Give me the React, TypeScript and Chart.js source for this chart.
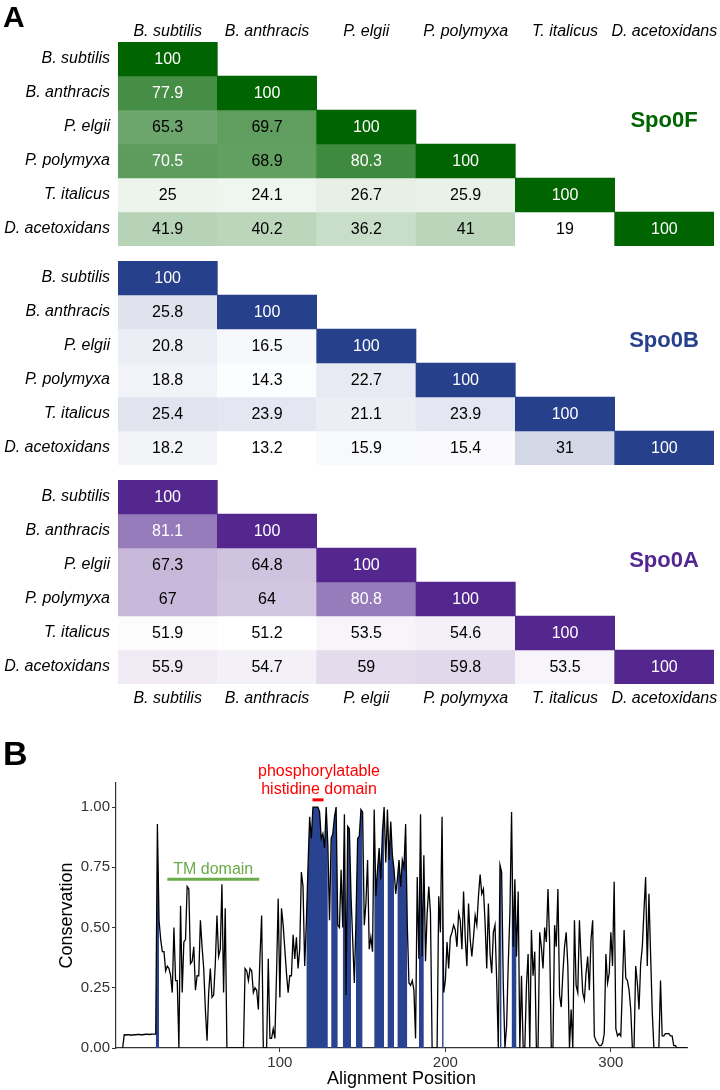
import React, { useEffect, useRef } from 'react';
import { Chart, registerables } from 'chart.js';

Chart.register(...registerables);

const FONT = "'Liberation Sans', Arial, Helvetica, sans-serif";

// ---------- Panel A data ----------
const species = ['B. subtilis', 'B. anthracis', 'P. elgii', 'P. polymyxa', 'T. italicus', 'D. acetoxidans'];

const spo0F: number[][] = [
  [100],
  [77.9, 100],
  [65.3, 69.7, 100],
  [70.5, 68.9, 80.3, 100],
  [25, 24.1, 26.7, 25.9, 100],
  [41.9, 40.2, 36.2, 41, 19, 100],
];
const spo0B: number[][] = [
  [100],
  [25.8, 100],
  [20.8, 16.5, 100],
  [18.8, 14.3, 22.7, 100],
  [25.4, 23.9, 21.1, 23.9, 100],
  [18.2, 13.2, 15.9, 15.4, 31, 100],
];
const spo0A: number[][] = [
  [100],
  [81.1, 100],
  [67.3, 64.8, 100],
  [67, 64, 80.8, 100],
  [51.9, 51.2, 53.5, 54.6, 100],
  [55.9, 54.7, 59, 59.8, 53.5, 100],
];
const greenRGB = [0, 100, 0];
const blueRGB = [39, 64, 139];
const purpleRGB = [84, 39, 143];

// ---------- Panel B data ----------
const firstPosition = 5;
const conservation: number[] = [
  0, 0.055, 0.054, 0.055, 0.055, 0.053, 0.054, 0.055, 0.055, 0.056, // 5-14
  0.056, 0.055, 0.055, 0.056, 0.057, 0.057, 0.056, 0.057, 0.058, 0.058, // 15-24
  0.058, 0.93, 0.53, 0.45, 0.40, 0.40, 0.32, 0.34, 0.33, 0.30, // 25-34
  0.23, 0.50, 0.28, 0.28, 0, 0.59, 0.23, 0.44, 0.45, 0.67, // 35-44
  0.66, 0.35, 0.36, 0.42, 0.24, 0.30, 0.30, 0.53, 0.42, 0.33, // 45-54
  0.16, 0.03, 0.23, 0.33, 0.21, 0.22, 0.35, 0.55, 0.38, 0.41, // 55-64
  0.68, 0.23, 0.58, 0, 0, 0, 0, 0, 0, 0, // 65-74
  0, 0, 0, 0, 0.33, 0.32, 0.28, 0.33, 0.32, 0.23, // 75-84
  0.25, 0.24, 0.16, 0.38, 0.55, 0, 0, 0, 0.37, 0.04, // 85-94
  0.04, 0.08, 0.04, 0.31, 0.62, 0.21, 0.58, 0.51, 0.41, 0.31, // 95-104
  0.23, 0.30, 0.30, 0.47, 0.37, 0.46, 0.33, 0.41, 0.73, 0.67, // 105-114
  0.34, 0.52, 0.75, 0.96, 0.87, 1, 1, 1, 1, 0.98, // 115-124
  0.87, 0.89, 0.83, 1, 0.84, 0.53, 0.87, 0.89, 0.96, 1, // 125-134
  0.51, 0.50, 0.74, 0.50, 0.97, 0.22, 0.92, 0.91, 0.63, 0.45, // 135-144
  0.27, 0.53, 0.87, 0.88, 0.99, 0.98, 0.51, 0.60, 0.78, 0.41, // 145-154
  0.46, 0.40, 0.99, 0.63, 0.74, 0.83, 0.70, 0.90, 1, 0.77, // 155-164
  0.99, 0.78, 0.94, 0.80, 0.74, 0.64, 0.70, 0.78, 0.67, 0.78, // 165-174
  0.75, 0.93, 0.51, 0.27, 0.26, 0.28, 0.24, 0.04, 0.71, 0.37, // 175-184
  0.97, 0.38, 0.80, 0.36, 0.56, 0.67, 0.56, 0, 0, 0, // 185-194
  0, 0.63, 0.48, 0.96, 0.23, 0.28, 0.44, 0.33, 0.46, 0.48, // 195-204
  0.51, 0.49, 0.42, 0.56, 0.53, 0.41, 0.65, 0.46, 0.34, 0.60, // 205-214
  0.45, 0.38, 0.46, 0.55, 0.51, 0.63, 0.72, 0.64, 0.66, 0.52, // 215-224
  0.33, 0.60, 0.39, 0.31, 0.48, 0.51, 0.28, 0, 0.76, 0.73, // 225-234
  0.26, 0, 0.09, 0.35, 0.56, 0.98, 0.42, 0.70, 0.38, 0.65, // 235-244
  0, 0.30, 0, 0, 0.26, 0.39, 0, 0.49, 0.30, 0.40, // 245-254
  0, 0, 0.48, 0.42, 0.33, 0.50, 0.44, 0.66, 0.44, 0, // 255-264
  0, 0.51, 0.42, 0.66, 0.22, 0.17, 0.31, 0.42, 0.48, 0.34, // 265-274
  0, 0.16, 0, 0.53, 0.26, 0.23, 0.53, 0.37, 0.23, 0.20, // 275-284
  0.31, 0.38, 0.24, 0.45, 0.53, 0.05, 0.03, 0.02, 0.01, 0.01, // 285-294
  0.02, 0.06, 0.39, 0.27, 0.31, 0.48, 0.34, 0.69, 0.08, 0.05, // 295-304
  0.06, 0.05, 0.26, 0.49, 0.29, 0.28, 0.24, 0.16, 0, 0, // 305-314
  0.34, 0.27, 0.16, 0.35, 0.42, 0.57, 0.71, 0.34, 0.64, 0.39, // 315-324
  0.15, 0, 0, 0, 0, 0.28, 0.05, 0.05, 0.06, 0.06, // 325-334
  0.06, 0.05, 0.05, 0.01, 0.01, 0, 0, 0, 0, 0, // 335-344
  0, 0, // 345-346
];
const highlightRanges: [number, number][] = [
  [25, 27], [116, 129], [131, 135], [138, 143], [146, 150], [157, 163],
  [165, 169], [171, 177], [184, 187], [198, 199], [233, 234], [240, 243],
];
const xTicksB = [100, 200, 300];
const yTicksB = [0, 0.25, 0.5, 0.75, 1];
const tmDomain = [32, 87.5];
const tmLevel = 0.7;
const hisDomain = [119.7, 126.4];
const hisLevel = 1.03;

type TextItem = { text: string; x: number; y: number; font: string; color: string; align?: CanvasTextAlign };

function textPlugin(items: TextItem[]) {
  return {
    id: 'overlayText',
    afterDraw(chart: any) {
      const ctx = chart.ctx;
      ctx.save();
      for (const it of items) {
        ctx.font = it.font;
        ctx.fillStyle = it.color;
        ctx.textAlign = it.align || 'left';
        ctx.textBaseline = 'alphabetic';
        ctx.fillText(it.text, it.x, it.y);
      }
      ctx.restore();
    },
  };
}

function cellLabelPlugin(values: number[][]) {
  return {
    id: 'cellLabels',
    afterDatasetsDraw(chart: any) {
      const ctx = chart.ctx;
      ctx.save();
      ctx.font = `16px ${FONT}`;
      ctx.textAlign = 'center';
      ctx.textBaseline = 'middle';
      values.forEach((row, r) => {
        const meta = chart.getDatasetMeta(r);
        row.forEach((v, c) => {
          const el = meta.data[c];
          if (!el) return;
          const p = el.getCenterPoint();
          ctx.fillStyle = v > 70 ? '#ffffff' : '#000000';
          ctx.fillText(String(v), p.x, p.y + 1);
        });
      });
      ctx.restore();
    },
  };
}

function heatmapConfig(
  values: number[][],
  rgb: number[],
  xPosition: 'top' | 'bottom' | 'none',
  padTop: number,
  padBottom: number,
  axisH: number,
  texts: TextItem[]
): any {
  const off = values.flatMap((row) => row.slice(0, -1));
  const min = Math.min(...off);
  const max = 100;
  const color = (v: number) => {
    const t = Math.max(0, Math.min(1, (v - min) / (max - min)));
    const ch = (k: number) => Math.round(255 + (rgb[k] - 255) * t);
    return `rgb(${ch(0)},${ch(1)},${ch(2)})`;
  };
  const datasets = species.map((name, r) => ({
    label: name,
    data: species.map((_, c) => (c <= r ? [r - 0.5, r + 0.5] : null)),
    backgroundColor: species.map((_, c) => (c <= r ? color(values[r][c]) : 'rgba(0,0,0,0)')),
    borderWidth: 0,
    grouped: false,
    barPercentage: 1,
    categoryPercentage: 1,
  }));
  return {
    type: 'bar',
    data: { labels: species, datasets },
    options: {
      animation: false,
      responsive: false,
      devicePixelRatio: 1,
      events: [],
      layout: { padding: { left: 0, right: 6, top: padTop, bottom: padBottom } },
      plugins: { legend: { display: false }, tooltip: { enabled: false } },
      scales: {
        x: {
          type: 'category',
          position: xPosition === 'none' ? 'bottom' : xPosition,
          display: xPosition !== 'none',
          grid: { display: false, drawTicks: false },
          border: { display: false },
          ticks: {
            autoSkip: false,
            maxRotation: 0,
            padding: xPosition === 'top' ? 1 : 5,
            color: '#000',
            font: { family: FONT, size: 16, style: 'italic' },
          },
          afterFit: (s: any) => {
            s.height = axisH;
            s.paddingLeft = 0;
            s.paddingRight = 0;
          },
        },
        y: {
          type: 'linear',
          min: -0.5,
          max: 5.5,
          reverse: true,
          grid: { display: false, drawTicks: false },
          border: { display: false },
          afterBuildTicks: (s: any) => {
            s.ticks = species.map((_, i) => ({ value: i }));
          },
          ticks: {
            padding: 8,
            color: '#000',
            font: { family: FONT, size: 16, style: 'italic' },
            callback: (v: any) => species[Math.round(Number(v))],
          },
          afterFit: (s: any) => {
            s.width = 118;
            s.paddingTop = 0;
            s.paddingBottom = 0;
          },
        },
      },
    },
    plugins: [cellLabelPlugin(values), textPlugin(texts)],
  };
}

function inHighlight(pos: number) {
  return highlightRanges.some(([a, b]) => pos >= a && pos <= b);
}

const domainPlugin = {
  id: 'domains',
  afterDatasetsDraw(chart: any) {
    const { ctx } = chart;
    const x = chart.scales.x;
    const y = chart.scales.y;
    ctx.save();
    const green = '#6aab4a';
    const tx0 = x.getPixelForValue(tmDomain[0]);
    const tx1 = x.getPixelForValue(tmDomain[1]);
    const ty = y.getPixelForValue(tmLevel);
    ctx.strokeStyle = green;
    ctx.lineWidth = 3;
    ctx.beginPath();
    ctx.moveTo(tx0, ty);
    ctx.lineTo(tx1, ty);
    ctx.stroke();
    ctx.font = `16px ${FONT}`;
    ctx.fillStyle = green;
    ctx.textAlign = 'center';
    ctx.textBaseline = 'alphabetic';
    ctx.fillText('TM domain', (tx0 + tx1) / 2, ty - 5);

    const hx0 = x.getPixelForValue(hisDomain[0]);
    const hx1 = x.getPixelForValue(hisDomain[1]);
    const hy = y.getPixelForValue(hisLevel);
    ctx.strokeStyle = '#ff0000';
    ctx.beginPath();
    ctx.moveTo(hx0, hy);
    ctx.lineTo(hx1, hy);
    ctx.stroke();
    ctx.fillStyle = '#ff0000';
    const hc = (hx0 + hx1) / 2 + 1;
    ctx.fillText('phosphorylatable', hc, hy - 24);
    ctx.fillText('histidine domain', hc, hy - 6);
    ctx.restore();
  },
};

function conservationConfig(): any {
  const linePts = conservation.map((v, i) => ({ x: firstPosition + i, y: v }));
  const fillPts = conservation.map((v, i) => {
    const pos = firstPosition + i;
    return { x: pos, y: inHighlight(pos) ? v : null };
  });
  return {
    type: 'line',
    data: {
      datasets: [
        {
          label: 'Conservation',
          data: linePts,
          borderColor: '#000000',
          borderWidth: 1.3,
          pointRadius: 0,
          tension: 0,
          fill: false,
          order: 1,
        },
        {
          label: 'Highlighted',
          data: fillPts,
          borderColor: 'rgba(0,0,0,0)',
          borderWidth: 0,
          backgroundColor: '#2a4390',
          pointRadius: 0,
          tension: 0,
          fill: 'origin',
          spanGaps: false,
          order: 2,
        },
      ],
    },
    options: {
      animation: false,
      responsive: false,
      devicePixelRatio: 1,
      events: [],
      layout: { padding: { left: 56, right: 33, top: 83, bottom: 0 } },
      plugins: { legend: { display: false }, tooltip: { enabled: false } },
      scales: {
        x: {
          type: 'linear',
          min: 1,
          max: 346,
          afterBuildTicks: (s: any) => {
            s.ticks = xTicksB.map((v) => ({ value: v }));
          },
          grid: { display: true, drawOnChartArea: false, drawTicks: true, tickLength: 4, color: '#333333' },
          border: { display: true, color: '#333333', width: 1.2 },
          ticks: { padding: 2, maxRotation: 0, color: '#333333', font: { family: FONT, size: 15 } },
          title: {
            display: true,
            text: 'Alignment Position',
            color: '#000000',
            font: { family: FONT, size: 18 },
            padding: { top: 0, bottom: 0 },
          },
          afterFit: (s: any) => {
            s.height = 42;
            s.paddingLeft = 0;
            s.paddingRight = 0;
          },
        },
        y: {
          type: 'linear',
          min: 0,
          max: 1.1,
          afterBuildTicks: (s: any) => {
            s.ticks = yTicksB.map((v) => ({ value: v }));
          },
          grid: { display: true, drawOnChartArea: false, drawTicks: true, tickLength: 4, color: '#333333' },
          border: { display: true, color: '#333333', width: 1.2 },
          ticks: {
            padding: 2,
            color: '#333333',
            font: { family: FONT, size: 15 },
            callback: (v: any) => Number(v).toFixed(2),
          },
          title: {
            display: true,
            text: 'Conservation',
            color: '#000000',
            font: { family: FONT, size: 18 },
            padding: { top: 0, bottom: 0 },
          },
          afterFit: (s: any) => {
            s.width = 60;
            s.paddingTop = 0;
            s.paddingBottom = 0;
          },
        },
      },
    },
    plugins: [domainPlugin, textPlugin([{ text: 'B', x: 3, y: 65, font: `bold 34px ${FONT}`, color: '#000' }])],
  };
}

export default function App() {
  const c1 = useRef<HTMLCanvasElement>(null);
  const c2 = useRef<HTMLCanvasElement>(null);
  const c3 = useRef<HTMLCanvasElement>(null);
  const c4 = useRef<HTMLCanvasElement>(null);

  useEffect(() => {
    const charts: Chart[] = [];
    const spoFont = `bold 22px ${FONT}`;
    if (c1.current)
      charts.push(
        new Chart(
          c1.current,
          heatmapConfig(spo0F, greenRGB, 'top', 0, 4, 42, [
            { text: 'A', x: 3, y: 27, font: `bold 30px ${FONT}`, color: '#000' },
            { text: 'Spo0F', x: 664, y: 127, font: spoFont, color: 'rgb(0,100,0)', align: 'center' },
          ])
        )
      );
    if (c2.current)
      charts.push(
        new Chart(
          c2.current,
          heatmapConfig(spo0B, blueRGB, 'none', 11, 5, 0, [
            { text: 'Spo0B', x: 664, y: 96.5, font: spoFont, color: 'rgb(39,64,139)', align: 'center' },
          ])
        )
      );
    if (c3.current)
      charts.push(
        new Chart(
          c3.current,
          heatmapConfig(spo0A, purpleRGB, 'bottom', 10, 0, 26, [
            { text: 'Spo0A', x: 664, y: 96.5, font: spoFont, color: 'rgb(84,39,143)', align: 'center' },
          ])
        )
      );
    if (c4.current) charts.push(new Chart(c4.current, conservationConfig()));
    return () => charts.forEach((c) => c.destroy());
  }, []);

  return (
    <div style={{ position: 'absolute', left: 0, top: 0, width: 720, height: 1090, background: '#ffffff', overflow: 'hidden' }}>
      <canvas ref={c1} width={720} height={250} style={{ position: 'absolute', left: 0, top: 0 }} />
      <canvas ref={c2} width={720} height={220} style={{ position: 'absolute', left: 0, top: 250 }} />
      <canvas ref={c3} width={720} height={240} style={{ position: 'absolute', left: 0, top: 470 }} />
      <canvas ref={c4} width={720} height={390} style={{ position: 'absolute', left: 0, top: 700 }} />
    </div>
  );
}
